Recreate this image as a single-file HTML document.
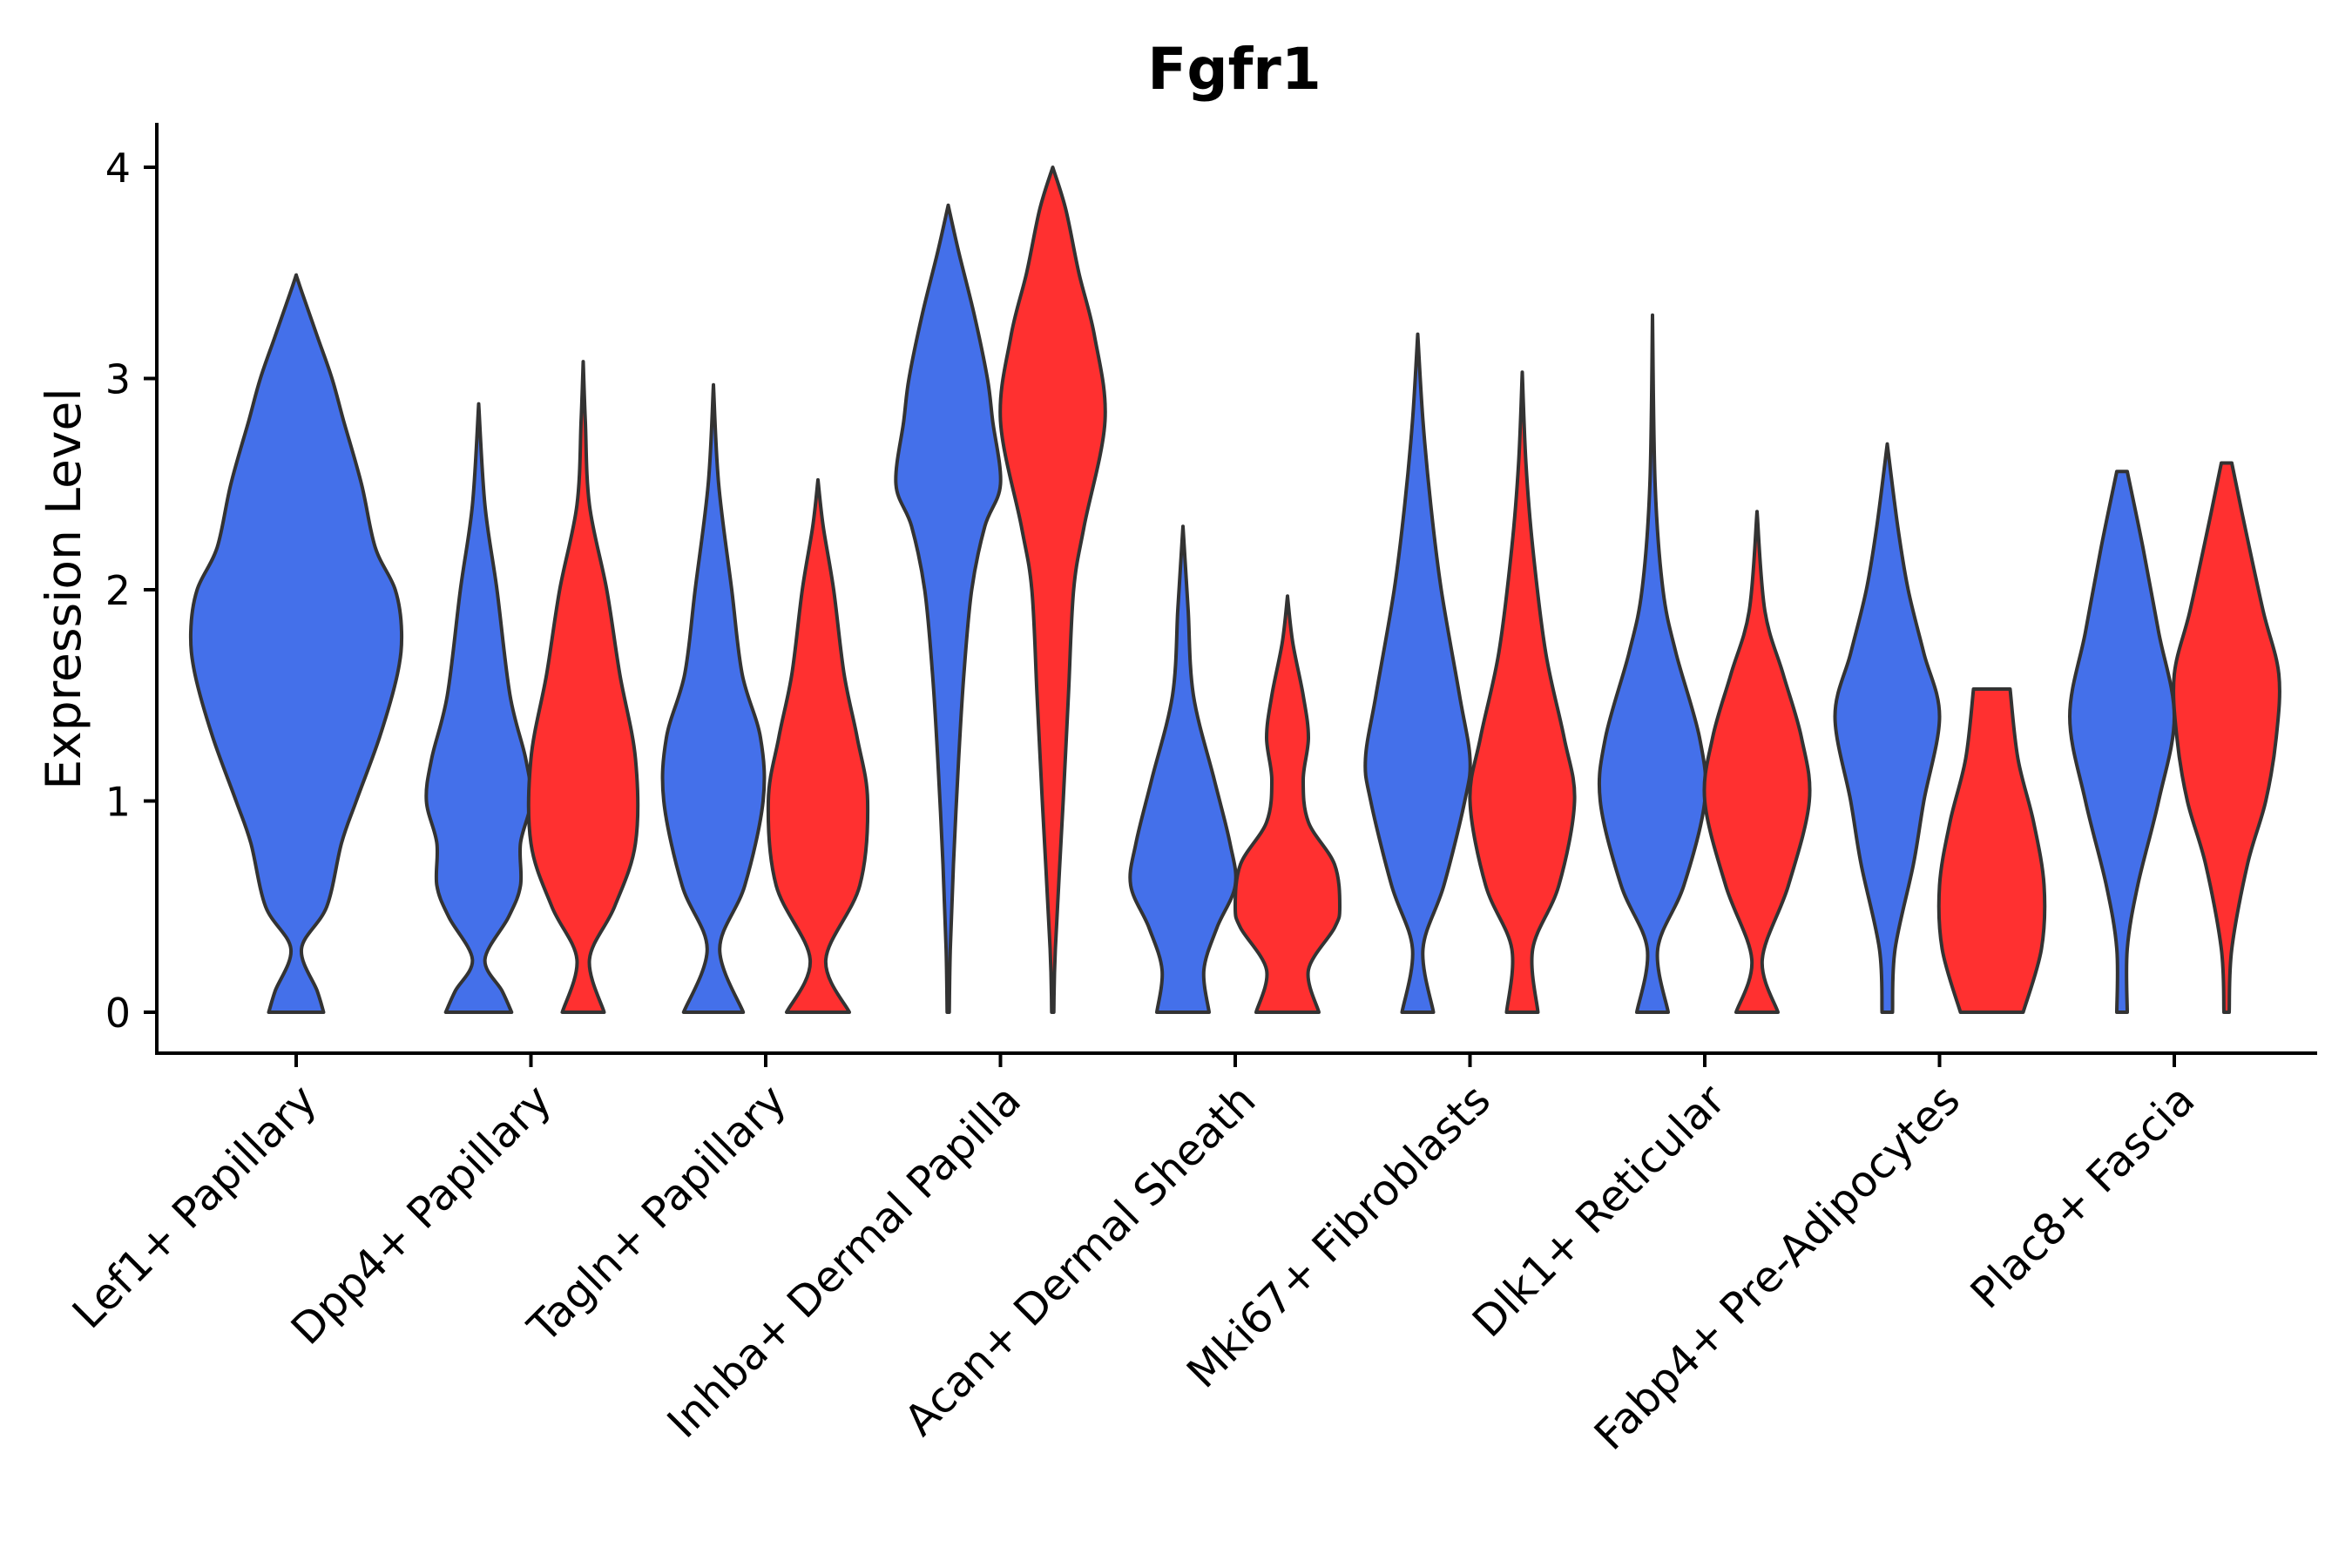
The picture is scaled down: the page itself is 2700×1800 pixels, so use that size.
<!DOCTYPE html>
<html><head><meta charset="utf-8"><style>
html,body{margin:0;padding:0;background:#fff;}
svg{display:block;font-family:"DejaVu Sans","Liberation Sans",sans-serif;}
</style></head><body>
<svg id="chart" width="2700" height="1800" viewBox="0 0 2700 1800">
<text x="1417" y="102" text-anchor="middle" font-size="66" font-weight="bold">Fgfr1</text>
<text transform="translate(92,676) rotate(-90)" text-anchor="middle" font-size="55">Expression Level</text>
<g id="violins"></g>
<line x1="180" y1="141" x2="180" y2="1211" stroke="#000" stroke-width="4"/>
<line x1="178" y1="1209" x2="2660" y2="1209" stroke="#000" stroke-width="4"/>
<g id="yticks"></g>
<g id="xticks"></g>
</svg>
<script>
const categories=["Lef1+ Papillary","Dpp4+ Papillary","Tagln+ Papillary","Inhba+ Dermal Papilla","Acan+ Dermal Sheath","Mki67+ Fibroblasts","Dlk1+ Reticular","Fabp4+ Pre-Adipocytes","Plac8+ Fascia"];
const yTicks=[0,1,2,3,4];
// each violin: category index, group ('blue'|'red'|'single'), y levels, relative half-widths
const violinCat=[0,1,1,2,2,3,3,4,4,5,5,6,6,7,7,8,8];
const violinGroup=["single","blue","red","blue","red","blue","red","blue","red","blue","red","blue","red","blue","red","blue","red"];
const violinY=[
[0,0.1,0.3,0.5,0.8,1.0,1.3,1.6,1.8,2.0,2.2,2.5,2.8,3.0,3.2,3.4,3.49],
[0,0.1,0.25,0.45,0.6,0.8,1.0,1.2,1.5,2.0,2.4,2.88],
[0,0.25,0.5,0.8,1.2,1.6,2.0,2.4,2.8,3.08],
[0,0.3,0.6,1.0,1.3,1.6,2.0,2.5,2.97],
[0,0.25,0.6,1.0,1.3,1.6,2.0,2.3,2.52],
[0,0.3,0.7,1.2,1.6,2.0,2.3,2.5,2.8,3.0,3.3,3.6,3.82],
[0,0.3,1.0,1.5,2.0,2.3,2.8,3.2,3.5,3.8,4.0],
[0,0.2,0.4,0.6,0.8,1.1,1.5,1.9,2.1,2.3],
[0,0.2,0.4,0.5,0.7,0.9,1.1,1.3,1.5,1.75,1.97],
[0,0.3,0.6,1.0,1.2,1.5,2.0,2.4,2.8,3.21],
[0,0.3,0.6,1.0,1.3,1.7,2.2,2.6,3.03],
[0,0.3,0.6,1.0,1.3,1.7,2.0,2.5,3.3],
[0,0.25,0.6,1.0,1.3,1.6,1.9,2.37],
[0,0.3,0.7,1.0,1.4,1.7,2.0,2.3,2.69],
[0,0.3,0.6,0.9,1.2,1.53],
[0,0.3,0.6,1.0,1.4,1.8,2.2,2.56],
[0,0.3,0.7,1.0,1.3,1.6,1.9,2.3,2.6]
];
const violinW=[
[0.26,0.2,0.05,0.29,0.43,0.57,0.79,0.96,1.0,0.94,0.75,0.62,0.45,0.34,0.2,0.06,0],
[0.63,0.45,0.12,0.57,0.8,0.8,1.0,0.9,0.6,0.35,0.12,0],
[0.4,0.12,0.6,1.0,1.0,0.7,0.45,0.12,0.04,0],
[0.57,0.12,0.6,0.95,0.9,0.55,0.35,0.1,0],
[0.6,0.15,0.8,0.95,0.75,0.5,0.3,0.1,0],
[0.02,0.04,0.1,0.2,0.3,0.45,0.7,1.0,0.85,0.75,0.5,0.2,0],
[0.02,0.05,0.2,0.3,0.4,0.6,1.0,0.8,0.5,0.25,0],
[0.5,0.4,0.65,1.0,0.9,0.6,0.2,0.1,0.05,0],
[0.6,0.4,0.9,1.0,0.9,0.4,0.3,0.4,0.3,0.1,0],
[0.3,0.1,0.5,0.9,1.0,0.8,0.45,0.25,0.1,0],
[0.3,0.2,0.7,1.0,0.8,0.45,0.2,0.07,0],
[0.3,0.1,0.6,1.0,0.9,0.45,0.2,0.05,0],
[0.4,0.1,0.6,1.0,0.85,0.5,0.15,0],
[0.1,0.15,0.5,0.7,1.0,0.7,0.4,0.2,0],
[0.6,0.95,1.0,0.8,0.5,0.35],
[0.1,0.1,0.3,0.7,1.0,0.7,0.4,0.1],
[0.05,0.1,0.4,0.75,0.95,1.0,0.7,0.35,0.1]
];
const colors={single:"#4470EA",blue:"#4470EA",red:"#FF3030"};
const X0=340,XSTEP=269.5,DODGE=60,HALF_D=60,HALF_S=121;
function xScale(i){return X0+i*XSTEP;}
function yScale(v){return 1162-v*242.5;}
const NS="http://www.w3.org/2000/svg";
function catmull(pts){
  let d="";
  for(let i=0;i<pts.length-1;i++){
    const p0=pts[Math.max(0,i-1)],p1=pts[i],p2=pts[i+1],p3=pts[Math.min(pts.length-1,i+2)];
    const c1=[p1[0]+(p2[0]-p0[0])/6,p1[1]+(p2[1]-p0[1])/6];
    const c2=[p2[0]-(p3[0]-p1[0])/6,p2[1]-(p3[1]-p1[1])/6];
    d+=` C${c1[0].toFixed(1)},${c1[1].toFixed(1)} ${c2[0].toFixed(1)},${c2[1].toFixed(1)} ${p2[0].toFixed(1)},${p2[1].toFixed(1)}`;
  }
  return d;
}
const vg=document.getElementById('violins');
violinY.forEach((ys,k)=>{
  const g=violinGroup[k];
  const cx=xScale(violinCat[k])+(g==="blue"?-DODGE:g==="red"?DODGE:0);
  const half=g==="single"?HALF_S:HALF_D;
  const ws=violinW[k];
  const right=ys.map((y,i)=>[cx+ws[i]*half,yScale(y)]);
  const left=ys.map((y,i)=>[cx-ws[i]*half,yScale(y)]).reverse();
  let d=`M${left[left.length-1][0]},${left[left.length-1][1]} L${right[0][0]},${right[0][1]}`;
  d+=catmull(right);
  d+=` L${left[0][0]},${left[0][1]}`;
  d+=catmull(left);
  d+=" Z";
  const p=document.createElementNS(NS,'path');
  p.setAttribute('d',d);
  p.setAttribute('fill',colors[g]);
  p.setAttribute('stroke','#333');
  p.setAttribute('stroke-width','4');
  p.setAttribute('stroke-linejoin','round');
  
  
  vg.appendChild(p);
});
const yt=document.getElementById('yticks');
yTicks.forEach(v=>{
  const y=yScale(v);
  const l=document.createElementNS(NS,'line');
  l.setAttribute('x1',165);l.setAttribute('x2',180);l.setAttribute('y1',y);l.setAttribute('y2',y);
  l.setAttribute('stroke','#000');l.setAttribute('stroke-width','4');
  
  
  yt.appendChild(l);
  const t=document.createElementNS(NS,'text');
  t.setAttribute('x',150);t.setAttribute('y',y+17);t.setAttribute('text-anchor','end');t.setAttribute('font-size','46');
  t.textContent=v;
  
  
  yt.appendChild(t);
});
const xt=document.getElementById('xticks');
categories.forEach((c,i)=>{
  const x=xScale(i);
  const l=document.createElementNS(NS,'line');
  l.setAttribute('x1',x);l.setAttribute('x2',x);l.setAttribute('y1',1209);l.setAttribute('y2',1225);
  l.setAttribute('stroke','#000');l.setAttribute('stroke-width','4');
  
  
  xt.appendChild(l);
  const t=document.createElementNS(NS,'text');
  t.setAttribute('transform',`translate(${x+26},1266) rotate(-45)`);
  t.setAttribute('text-anchor','end');t.setAttribute('font-size','49');
  t.textContent=c;
  
  
  xt.appendChild(t);
});
</script>
</body></html>
